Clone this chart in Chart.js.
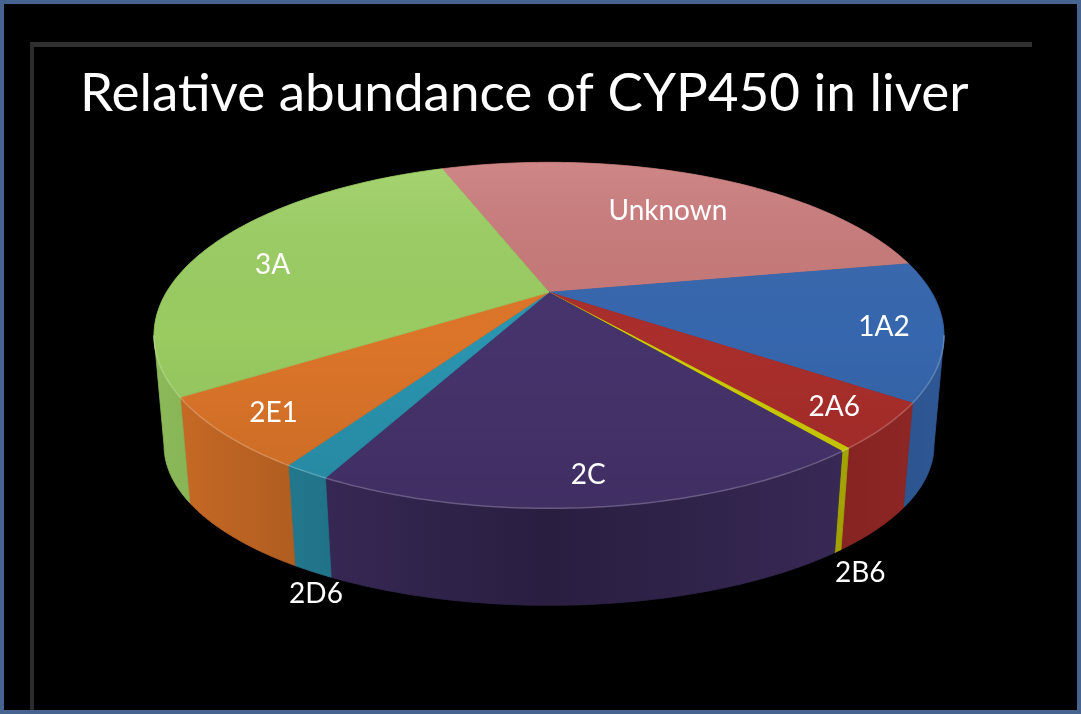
<!DOCTYPE html>
<html>
<head>
<meta charset="utf-8">
<title>Relative abundance of CYP450 in liver</title>
<script src="https://cdn.jsdelivr.net/npm/chart.js@4.4.0/dist/chart.umd.min.js"></script>
<style>
  html, body { margin: 0; padding: 0; background: #000; }
  #frame {
    position: relative; width: 1081px; height: 714px; box-sizing: border-box;
    border: 4px solid #46648f; background: #000; overflow: hidden;
  }
  #bevel {
    position: absolute; left: 26px; top: 38px; width: 998px; height: 720px;
    border-top: 5px solid #303030; border-left: 4px solid #2c2c2c;
  }
  #pie-chart { position: absolute; left: -4px; top: -4px; }
</style>
</head>
<body>
<div id="frame">
  <div id="bevel"></div>
  <canvas id="pie-chart" width="1081" height="714"></canvas>
</div>
<script>
// slices, clockwise from the top
const labels = ['Unknown', '1A2', '2A6', '2B6', '2C', '2D6', '2E1', '3A'];
const abundance = [22.6, 13.2, 4.9, 0.4, 22.9, 1.9, 7.7, 26.5];
const colors = ['#c97a7a', '#3768b0', '#ad2f2c', '#d2d200', '#47346e', '#2b97b3', '#e0772a', '#9ccf63'];

// tilted-disc shape, in units of the pie radius
const SHAPE = { rx: 2.516, ry: 1.102, topDy: 0.274, brx: 2.452, bry: 1.019, botDy: 0.975 };

function shade(hex, f) {
  const n = parseInt(hex.slice(1), 16);
  const r = Math.min(255, Math.round(((n >> 16) & 255) * f));
  const g = Math.min(255, Math.round(((n >> 8) & 255) * f));
  const b = Math.min(255, Math.round((n & 255) * f));
  return `rgb(${r},${g},${b})`;
}

const pie3d = {
  id: 'pie3d',
  beforeDatasetsDraw(chart) {
    const ctx = chart.ctx;
    const arcs = chart.getDatasetMeta(0).data;
    if (!arcs.length) return false;
    const c = { x: arcs[0].x, y: arcs[0].y, r: arcs[0].outerRadius };
    const top = a => [c.x + c.r * SHAPE.rx * Math.cos(a), c.y + c.r * (SHAPE.topDy + SHAPE.ry * Math.sin(a))];
    const bot = a => [c.x + c.r * SHAPE.brx * Math.cos(a), c.y + c.r * (SHAPE.botDy + SHAPE.bry * Math.sin(a))];
    const STEP = Math.PI / 180;
    const norm = a => ((a % (2 * Math.PI)) + 2 * Math.PI) % (2 * Math.PI);

    ctx.save();

    // front side walls (angles 0..PI), darker toward the middle
    const xl = c.x - c.r * SHAPE.rx, xr = c.x + c.r * SHAPE.rx;
    arcs.forEach((arc, i) => {
      let s = norm(arc.startAngle);
      let e = s + (arc.endAngle - arc.startAngle);
      const pieces = [[s, e], [s - 2 * Math.PI, e - 2 * Math.PI], [s + 2 * Math.PI, e + 2 * Math.PI]];
      pieces.forEach(([p0, p1]) => {
        const a0 = Math.max(p0, 0), a1 = Math.min(p1, Math.PI);
        if (a1 <= a0) return;
        const n = Math.max(2, Math.ceil((a1 - a0) / STEP));
        ctx.beginPath();
        for (let k = 0; k <= n; k++) ctx.lineTo(...top(a0 + (a1 - a0) * k / n));
        for (let k = n; k >= 0; k--) ctx.lineTo(...bot(a0 + (a1 - a0) * k / n));
        ctx.closePath();
        const g = ctx.createLinearGradient(xl, 0, xr, 0);
        g.addColorStop(0, shade(colors[i], 0.9));
        g.addColorStop(0.5, shade(colors[i], 0.58));
        g.addColorStop(1, shade(colors[i], 0.84));
        ctx.fillStyle = g;
        ctx.strokeStyle = g;
        ctx.lineWidth = 0.8;
        ctx.fill();
        ctx.stroke();
      });
    });

    // top face
    arcs.forEach((arc, i) => {
      ctx.beginPath();
      ctx.moveTo(c.x, c.y);
      const span = arc.endAngle - arc.startAngle;
      const n = Math.max(2, Math.ceil(span / STEP));
      for (let k = 0; k <= n; k++) ctx.lineTo(...top(arc.startAngle + span * k / n));
      ctx.closePath();
      ctx.fillStyle = colors[i];
      ctx.strokeStyle = colors[i];
      ctx.lineWidth = 0.8;
      ctx.fill();
      ctx.stroke();
    });

    // soft light over the top face
    ctx.beginPath();
    for (let k = 0; k <= 360; k++) ctx.lineTo(...top(k * STEP));
    ctx.closePath();
    const yTop = c.y + c.r * (SHAPE.topDy - SHAPE.ry);
    const yBot = c.y + c.r * (SHAPE.topDy + SHAPE.ry);
    const grad = ctx.createLinearGradient(0, yTop, 0, yBot);
    grad.addColorStop(0, 'rgba(255,255,255,0.09)');
    grad.addColorStop(0.5, 'rgba(0,0,0,0.02)');
    grad.addColorStop(1, 'rgba(0,0,0,0.10)');
    ctx.fillStyle = grad;
    ctx.fill();

    // rim highlight on the front edge
    ctx.beginPath();
    for (let k = 0; k <= 180; k++) ctx.lineTo(...top(k * STEP));
    ctx.strokeStyle = 'rgba(255,255,255,0.22)';
    ctx.lineWidth = 1.5;
    ctx.stroke();

    // labels
    ctx.fillStyle = '#ffffff';
    ctx.font = '28px Lato';
    ctx.textAlign = 'center';
    ctx.textBaseline = 'middle';
    arcs.forEach((arc, i) => {
      const m = (arc.startAngle + arc.endAngle) / 2;
      let p;
      if (abundance[i] < 3) {
        const b = bot(m);
        p = [b[0] + 12 + 14 * Math.cos(m), b[1] + 22];
      } else {
        const t = 0.85 - 0.15 * Math.max(0, -Math.sin(m));
        const e = top(m);
        p = [c.x + (e[0] - c.x) * t, c.y + (e[1] - c.y) * t];
      }
      ctx.fillText(labels[i], p[0], p[1]);
    });

    ctx.restore();
    return false;
  }
};

const ctx = document.getElementById('pie-chart').getContext('2d');
new Chart(ctx, {
  type: 'pie',
  data: {
    labels: labels,
    datasets: [{
      label: 'Relative abundance',
      data: abundance,
      backgroundColor: colors,
      borderWidth: 0,
      hoverOffset: 0,
      radius: 157
    }]
  },
  options: {
    responsive: false,
    animation: false,
    devicePixelRatio: 1,
    rotation: -15.7,
    layout: { padding: { left: 80, right: 63, top: 0, bottom: 264 } },
    plugins: {
      legend: { display: false },
      tooltip: { enabled: false },
      title: {
        display: true,
        text: 'Relative abundance of CYP450 in liver',
        align: 'start',
        color: '#ffffff',
        font: { family: 'Lato', size: 53, weight: 'normal' },
        padding: { top: 62, bottom: 9 }
      }
    }
  },
  plugins: [pie3d]
});
</script>
</body>
</html>
